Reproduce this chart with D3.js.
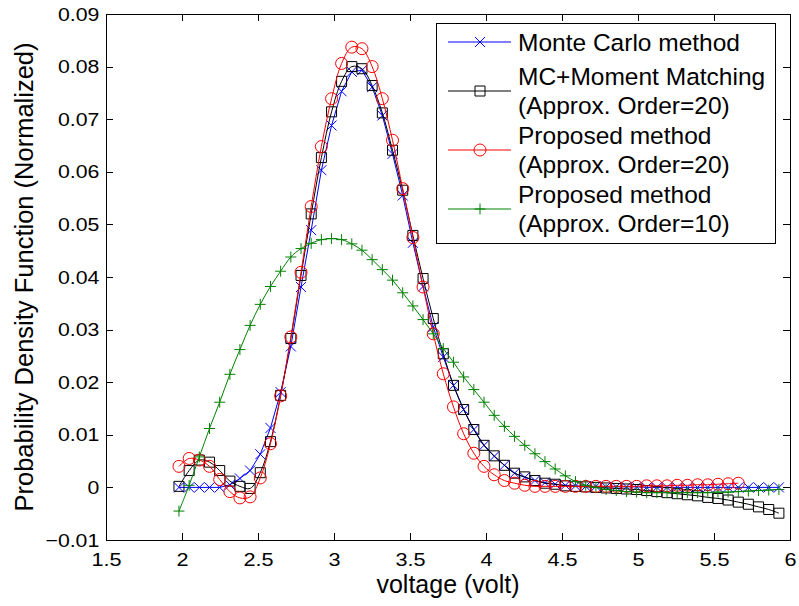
<!DOCTYPE html>
<html>
<head>
<meta charset="utf-8">
<script src="https://cdn.jsdelivr.net/npm/d3@7"></script>
<style>
    body { margin: 0; background: #fff; }
    svg text { font-family: "Liberation Sans", Arial, Helvetica, sans-serif; fill: #000; }
</style>
</head>
<body>
<svg id="chart" width="799" height="606"></svg>
<script>

// values (voltage in volt, pdf normalized)
let voltage = [
    1.980, 2.047, 2.114, 2.181, 2.248, 2.315, 2.381, 2.448, 2.515, 2.582,
    2.649, 2.716, 2.783, 2.850, 2.917, 2.984, 3.050, 3.117, 3.184, 3.251,
    3.318, 3.385, 3.452, 3.519, 3.586, 3.653, 3.719, 3.786, 3.853, 3.920,
    3.987, 4.054, 4.121, 4.188, 4.255, 4.322, 4.388, 4.455, 4.522, 4.589,
    4.656, 4.723, 4.790, 4.857, 4.924, 4.991, 5.057, 5.124, 5.191, 5.258,
    5.325, 5.392, 5.459, 5.526, 5.593, 5.660, 5.726, 5.793, 5.860, 5.927
]

let monteCarlo = [
    0.0000, 0.0000, 0.0000, 0.0000, 0.0000, 0.0005, 0.0017, 0.0032, 0.0063, 0.0113,
    0.0181, 0.0268, 0.0381, 0.0489, 0.0603, 0.0688, 0.0753, 0.0790, 0.0793, 0.0761,
    0.0707, 0.0634, 0.0555, 0.0465, 0.0382, 0.0305, 0.0248, 0.0194, 0.0148, 0.0110,
    0.0080, 0.0059, 0.0042, 0.0027, 0.0019, 0.0013, 0.0009, 0.0006, 0.0004, 0.0003,
    0.0002, 0.0002, 0.0001, 0.0001, 0.0001, 0.0001, 0.0000, 0.0000, 0.0000, 0.0000,
    0.0000, 0.0000, 0.0000, 0.0000, 0.0000, 0.0000, 0.0000, 0.0000, 0.0000, 0.0000
]

let momentMatching = [
    0.0002, 0.0032, 0.0052, 0.0048, 0.0032, 0.0012, 0.0002, -0.0002, 0.0028, 0.0087,
    0.0175, 0.0283, 0.0403, 0.0520, 0.0627, 0.0714, 0.0772, 0.0800, 0.0796, 0.0764,
    0.0712, 0.0641, 0.0565, 0.0479, 0.0397, 0.0321, 0.0254, 0.0194, 0.0148, 0.0110,
    0.0080, 0.0060, 0.0042, 0.0027, 0.0020, 0.0013, 0.0008, 0.0006, 0.0003, 0.0002,
    0.0001, 0.0000, -0.0001, -0.0002, -0.0003, -0.0004, -0.0006, -0.0008, -0.0010, -0.0012,
    -0.0014, -0.0016, -0.0019, -0.0021, -0.0024, -0.0028, -0.0032, -0.0037, -0.0042, -0.0049
]

// this one stops at about 5.66 volt
let proposedOrder20 = [
    0.0040, 0.0055, 0.0052, 0.0040, 0.0015, -0.0008, -0.0020, -0.0018, 0.0018, 0.0083,
    0.0174, 0.0286, 0.0409, 0.0534, 0.0648, 0.0739, 0.0806, 0.0837, 0.0834, 0.0800,
    0.0739, 0.0660, 0.0568, 0.0475, 0.0381, 0.0292, 0.0216, 0.0153, 0.0102, 0.0065,
    0.0040, 0.0024, 0.0013, 0.0008, 0.0004, 0.0002, 0.0002, 0.0002, 0.0002, 0.0002,
    0.0002, 0.0002, 0.0002, 0.0002, 0.0002, 0.0002, 0.0003, 0.0003, 0.0003, 0.0004,
    0.0004, 0.0005, 0.0005, 0.0006, 0.0007, 0.0008
]

let proposedOrder10 = [
    -0.0045, 0.0004, 0.0058, 0.0112, 0.0162, 0.0215, 0.0262, 0.0308, 0.0348, 0.0382,
    0.0411, 0.0438, 0.0454, 0.0464, 0.0471, 0.0473, 0.0471, 0.0463, 0.0451, 0.0433,
    0.0414, 0.0394, 0.0370, 0.0345, 0.0319, 0.0292, 0.0264, 0.0238, 0.0210, 0.0186,
    0.0162, 0.0137, 0.0116, 0.0097, 0.0080, 0.0064, 0.0049, 0.0035, 0.0022, 0.0011,
    0.0004, 0.0000, -0.0004, -0.0006, -0.0008, -0.0009, -0.0010, -0.0010, -0.0010, -0.0010,
    -0.0010, -0.0010, -0.0010, -0.0009, -0.0009, -0.0008, -0.0007, -0.0006, -0.0005, -0.0004
]

let xTicks = [1.5, 2, 2.5, 3, 3.5, 4, 4.5, 5, 5.5, 6]
let yTicks = [-0.01, 0, 0.01, 0.02, 0.03, 0.04, 0.05, 0.06, 0.07, 0.08, 0.09]

let legendLabels = [
    ["Monte Carlo method"],
    ["MC+Moment Matching", "(Approx. Order=20)"],
    ["Proposed method", "(Approx. Order=20)"],
    ["Proposed method", "(Approx. Order=10)"]
]

let series = [
    {values: monteCarlo, color: "#0000ff", marker: "x", smooth: false},
    {values: momentMatching, color: "#000000", marker: "square", smooth: true},
    {values: proposedOrder20, color: "#ff0000", marker: "o", smooth: true},
    {values: proposedOrder10, color: "#008000", marker: "+", smooth: true}
]

markerPath = function (type) {
    switch (type) {
        case "x":
            return "M-5,-5L5,5M-5,5L5,-5"
        case "+":
            return "M-5.5,0L5.5,0M0,-5.5L0,5.5"
        case "square":
            return "M-5,-5H5V5H-5Z"
        default:
            return "M-6,0A6,6 0 1,0 6,0A6,6 0 1,0 -6,0Z"
    }
}

drawChart = function () {
    let svg = d3.select("#chart")

    let x = d3.scaleLinear()
              .domain([1.5, 6])
              .range([106, 790])

    let y = d3.scaleLinear()
              .domain([-0.01, 0.09])
              .range([540, 14])

    let xFormat = d3.format("~g")
    let yFormat = d => d === 0 ? "0" : d3.format(".2f")(d)

    // bottom and left axes carry the labels, ticks point inward
    // (the original tick font runs a bit wide, hence the scaleX)
    svg.append("g")
       .attr("transform", "translate(0,540)")
       .call(d3.axisBottom(x).tickValues(xTicks).tickFormat(xFormat).tickSizeInner(-7).tickSizeOuter(0).tickPadding(12.5))
       .call(g => g.select(".domain").remove())
       .selectAll("text")
       .attr("transform", "scale(1.14,1)")
       .style("font-size", "19px")

    svg.append("g")
       .attr("transform", "translate(106,0)")
       .call(d3.axisLeft(y).tickValues(yTicks).tickFormat(yFormat).tickSizeInner(-7).tickSizeOuter(0).tickPadding(6))
       .call(g => g.select(".domain").remove())
       .selectAll("text")
       .attr("transform", "scale(1.12,1)")
       .style("font-size", "19px")

    svg.append("g")
       .attr("transform", "translate(0,14)")
       .call(d3.axisTop(x).tickValues(xTicks).tickFormat("").tickSizeInner(-7).tickSizeOuter(0))
       .call(g => g.select(".domain").remove())

    svg.append("g")
       .attr("transform", "translate(790,0)")
       .call(d3.axisRight(y).tickValues(yTicks).tickFormat("").tickSizeInner(-7).tickSizeOuter(0))
       .call(g => g.select(".domain").remove())

    svg.selectAll(".tick line")
       .attr("stroke", "#000")
       .attr("shape-rendering", "crispEdges")

    svg.append("rect")
       .attr("x", 106)
       .attr("y", 14)
       .attr("width", 790 - 106)
       .attr("height", 540 - 14)
       .attr("fill", "none")
       .attr("stroke", "#000")
       .attr("shape-rendering", "crispEdges")

    // curves, later series on top like in the original
    series.forEach(function (s) {
        let points = s.values.map((v, i) => [voltage[i], v])

        let line = d3.line()
                     .x(d => x(d[0]))
                     .y(d => y(d[1]))
                     .curve(s.smooth ? d3.curveCatmullRom : d3.curveLinear)

        svg.append("path")
           .datum(points)
           .attr("d", line)
           .attr("fill", "none")
           .attr("stroke", s.color)
           .attr("stroke-width", 1)

        svg.append("g")
           .selectAll("path")
           .data(points)
           .enter()
           .append("path")
           .attr("transform", d => "translate(" + x(d[0]) + "," + y(d[1]) + ")")
           .attr("d", markerPath(s.marker))
           .attr("fill", "none")
           .attr("stroke", s.color)
           .attr("stroke-width", 1)
    })

    // axis titles
    svg.append("text")
       .attr("x", 448)
       .attr("y", 593)
       .attr("text-anchor", "middle")
       .style("font-size", "25px")
       .text("voltage (volt)")

    svg.append("text")
       .attr("transform", "translate(33,277) rotate(-90)")
       .attr("text-anchor", "middle")
       .style("font-size", "25.5px")
       .text("Probability Density Function (Normalized)")

    // legend
    let legend = svg.append("g")

    legend.append("rect")
          .attr("x", 436)
          .attr("y", 23)
          .attr("width", 339)
          .attr("height", 220)
          .attr("fill", "#fff")
          .attr("stroke", "#000")
          .attr("shape-rendering", "crispEdges")

    let entryY = [42, 91, 150, 209]

    series.forEach(function (s, i) {
        let lines = legendLabels[i]
        let top = entryY[i] - (lines.length - 1) * 14.2

        legend.append("line")
              .attr("x1", 448)
              .attr("x2", 511)
              .attr("y1", entryY[i])
              .attr("y2", entryY[i])
              .attr("stroke", s.color)

        legend.append("path")
              .attr("transform", "translate(480," + entryY[i] + ")")
              .attr("d", markerPath(s.marker))
              .attr("fill", "none")
              .attr("stroke", s.color)

        legend.append("g")
              .selectAll("text")
              .data(lines)
              .enter()
              .append("text")
              .attr("x", 518)
              .attr("y", (d, k) => top + k * 28.4)
              .attr("dy", "0.35em")
              .style("font-size", "24.5px")
              .text(d => d)
    })
}

window.onload = function () {
    drawChart()
}
</script>
</body>
</html>
